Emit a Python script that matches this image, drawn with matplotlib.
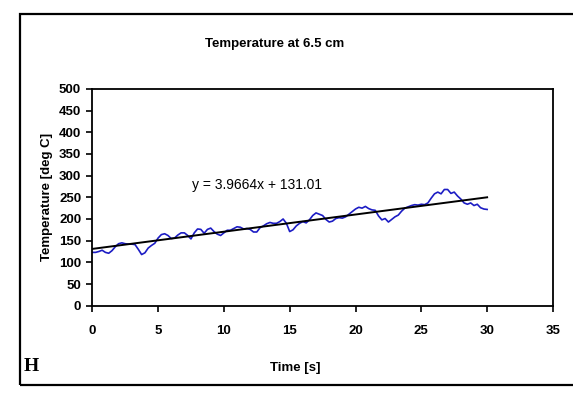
import numpy as np
import matplotlib
matplotlib.use("Agg")
import matplotlib.pyplot as plt
from matplotlib.patches import Rectangle

# Measured temperature at 6.5 cm, sampled every 0.25 s
time_s = [i * 0.25 for i in range(121)]
temperature = [
    123, 123, 125, 128, 123, 121, 127, 136, 143, 145, 143, 142, 142, 141, 130, 118,
    122, 133, 139, 144, 156, 164, 166, 162, 155, 156, 163, 168, 168, 162, 154, 168,
    177, 176, 167, 176, 179, 171, 165, 162, 168, 174, 174, 178, 182, 181, 177, 178,
    176, 170, 170, 180, 184, 189, 192, 190, 190, 194, 200, 190, 171, 175, 184, 190,
    194, 191, 198, 208, 214, 211, 208, 199, 193, 195, 201, 203, 202, 205, 211, 217,
    223, 227, 225, 229, 224, 221, 220, 207, 198, 201, 193, 199, 205, 209, 218, 225,
    228, 231, 233, 232, 234, 233, 237, 248, 258, 262, 258, 268, 268, 259, 262, 253,
    246, 237, 234, 237, 231, 234, 226, 223, 222,
]

# Linear trendline
slope = 3.9664
intercept = 131.01

x_ticks = [0, 5, 10, 15, 20, 25, 30, 35]
y_ticks = [0, 50, 100, 150, 200, 250, 300, 350, 400, 450, 500]

plt.rcParams['font.family'] = ['Liberation Sans', 'DejaVu Sans']

fig = plt.figure(figsize=(5.73, 3.95), dpi=100)
fig.patch.set_facecolor("white")

# Chart area border
fig.add_artist(Rectangle((0.035, 0.025), 1.0, 0.94, transform=fig.transFigure,
                         fill=False, edgecolor="black", linewidth=1.6))

ax = fig.add_axes([0.161, 0.226, 0.804, 0.549])
ax.plot(time_s, temperature, color="#1c1cc4", linewidth=1.2)
t_fit = np.array([time_s[0], time_s[-1]])
ax.plot(t_fit, slope * t_fit + intercept, color="black", linewidth=1.4)

ax.set_xlim(0, 35)
ax.set_ylim(0, 500)
ax.set_xticks(x_ticks)
ax.set_yticks(y_ticks)
ax.tick_params(direction="out", length=4, width=1.2, labelsize=9.5)
ax.tick_params(axis="x", pad=10)
ax.tick_params(axis="y", pad=4)
for lbl in ax.get_xticklabels() + ax.get_yticklabels():
    lbl.set_fontweight("bold")
for sp in ax.spines.values():
    sp.set_linewidth(1.3)

ax.set_xlabel("Time [s]", fontsize=9.5, fontweight="bold")
ax.xaxis.set_label_coords(0.44, -0.26)
ax.set_ylabel("Temperature [deg C]", fontsize=9.5, fontweight="bold", labelpad=4)

ax.text(7.6, 278, f"y = {slope}x + {intercept:.2f}", fontsize=10, ha="left", va="center")

fig.text(0.48, 0.888, "Temperature at 6.5 cm", ha="center", va="center",
         fontsize=9.5, fontweight="bold")

fig.text(0.042, 0.05, "H", family=["Liberation Serif", "DejaVu Serif"],
         fontsize=14, fontweight="bold", ha="left", va="bottom")

fig.savefig("out.png", dpi=100, facecolor="white")
